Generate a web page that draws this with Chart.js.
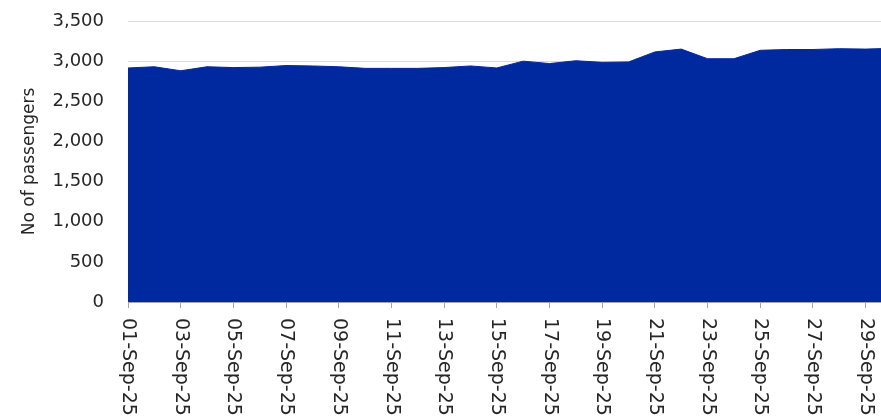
<!DOCTYPE html>
<html>
<head>
<meta charset="utf-8">
<script src="https://cdn.jsdelivr.net/npm/chart.js@4/dist/chart.umd.min.js"></script>
<style>
  html, body { margin: 0; padding: 0; background: #ffffff; overflow: hidden; width: 881px; height: 418px; }
  #wrap { position: absolute; left: 0; top: 0; width: 892px; height: 418px; }
</style>
</head>
<body>
<div id="wrap"><canvas id="c" width="892" height="418"></canvas></div>
<script>
const categories = [
  "01-Sep-25","02-Sep-25","03-Sep-25","04-Sep-25","05-Sep-25","06-Sep-25","07-Sep-25","08-Sep-25","09-Sep-25","10-Sep-25",
  "11-Sep-25","12-Sep-25","13-Sep-25","14-Sep-25","15-Sep-25","16-Sep-25","17-Sep-25","18-Sep-25","19-Sep-25","20-Sep-25",
  "21-Sep-25","22-Sep-25","23-Sep-25","24-Sep-25","25-Sep-25","26-Sep-25","27-Sep-25","28-Sep-25","29-Sep-25","30-Sep-25"
];
const passengers = [
  2915, 2930, 2880, 2930, 2920, 2925, 2945, 2940, 2930, 2910,
  2910, 2910, 2920, 2940, 2915, 3000, 2970, 3005, 2985, 2990,
  3115, 3150, 3030, 3030, 3135, 3145, 3145, 3155, 3150, 3160
];
const yTicks = [0, 500, 1000, 1500, 2000, 2500, 3000, 3500];
const yTitle = "No of passengers";

const FONT = "'DejaVu Sans', sans-serif";
const TEXT = '#262626';

const xLabelPlugin = {
  id: 'xLabels',
  afterDraw(chart) {
    const xs = chart.scales.x;
    const ctx = chart.ctx;
    ctx.save();
    ctx.fillStyle = TEXT;
    ctx.font = "19px " + FONT;
    ctx.textAlign = 'left';
    ctx.textBaseline = 'middle';
    categories.forEach((lab, i) => {
      if (i % 2 !== 0) return;
      const x = xs.getPixelForTick(i);
      ctx.save();
      ctx.translate(x, xs.top + 16);
      ctx.rotate(Math.PI / 2);
      ctx.fillText(lab, 0, 0);
      ctx.restore();
    });
    ctx.restore();
  }
};

new Chart(document.getElementById('c'), {
  type: 'line',
  data: {
    labels: categories,
    datasets: [{
      data: passengers,
      fill: 'origin',
      backgroundColor: '#0029A0',
      borderColor: '#0029A0',
      borderWidth: 1,
      pointRadius: 0,
      tension: 0
    }]
  },
  options: {
    responsive: false,
    animation: false,
    devicePixelRatio: 1,
    layout: { padding: { left: 0, right: 0, top: 21, bottom: 0 } },
    plugins: { legend: { display: false }, tooltip: { enabled: false } },
    scales: {
      x: {
        type: 'category',
        offset: false,
        grid: {
          drawOnChartArea: false,
          drawTicks: true,
          tickLength: 6,
          tickColor: (c) => (c.index % 2 === 0 ? '#a6a6a6' : 'rgba(0,0,0,0)')
        },
        border: { display: true, color: '#a6a6a6', width: 1 },
        ticks: { display: false, autoSkip: false },
        afterFit: (s) => { s.height = 116; }
      },
      y: {
        min: 0,
        max: 3500,
        afterBuildTicks: (s) => { s.ticks = yTicks.map(v => ({ value: v })); },
        ticks: {
          font: { family: FONT, size: 18 },
          color: TEXT,
          padding: 24,
          callback: (v) => Number(v).toLocaleString('en-US')
        },
        grid: { color: '#d9d9d9', drawTicks: false, lineWidth: 1 },
        border: { display: false },
        title: {
          display: true,
          text: yTitle,
          font: { family: FONT, size: 17 },
          color: TEXT,
          padding: { top: 19, bottom: 0 }
        },
        afterFit: (s) => { s.width = 128; s.paddingTop = 0; s.paddingBottom = 0; }
      }
    }
  },
  plugins: [xLabelPlugin]
});
</script>
</body>
</html>
